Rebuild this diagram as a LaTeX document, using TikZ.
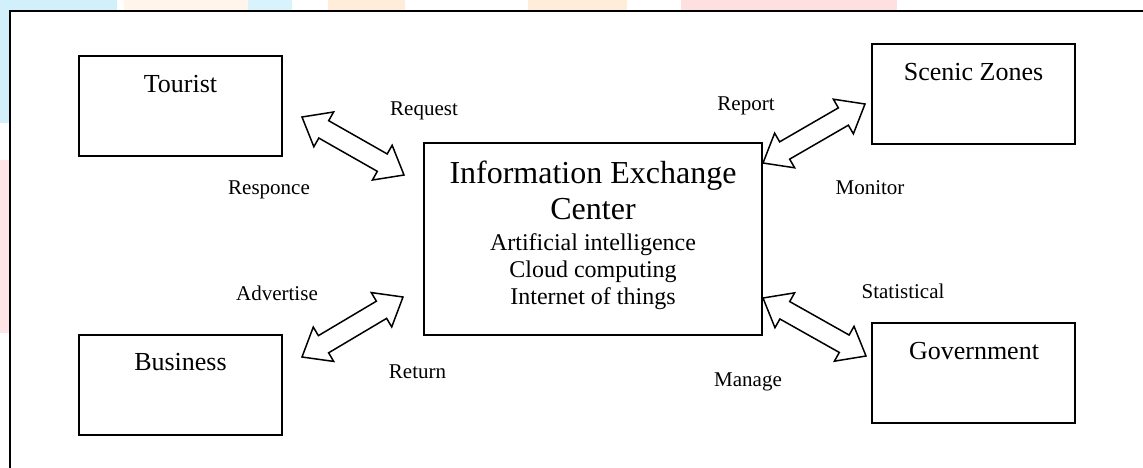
\documentclass[tikz,border=0pt]{standalone}
\usepackage{fontspec}
\setmainfont{Liberation Serif}
\usetikzlibrary{calc}
\tikzset{
  box/.style={draw=black, line width=1.5pt, fill=white, inner sep=0pt},
  boxtext/.style={anchor=base, inner sep=0pt, font=\fontsize{26}{30}\selectfont},
  titletext/.style={anchor=base, inner sep=0pt, font=\fontsize{32}{36}\selectfont},
  subtext/.style={anchor=base, inner sep=0pt, font=\fontsize{24}{28}\selectfont},
  lbl/.style={anchor=base, inner sep=0pt, font=\fontsize{21}{24}\selectfont},
  blockarrowstyle/.style={draw=black, fill=white, line width=1.5pt, line join=miter},
  frame/.style={draw=black, line width=1.5pt},
}
\newcommand{\blockarrow}[2]{%
  \draw[blockarrowstyle] (#1)
    -- ($(#1)!25pt!(#2)!20pt!90:(#2)$)
    -- ($(#1)!25pt!(#2)!10pt!90:(#2)$)
    -- ($(#2)!25pt!(#1)!10pt!-90:(#1)$)
    -- ($(#2)!25pt!(#1)!20pt!-90:(#1)$)
    -- (#2)
    -- ($(#2)!25pt!(#1)!20pt!90:(#1)$)
    -- ($(#2)!25pt!(#1)!10pt!90:(#1)$)
    -- ($(#1)!25pt!(#2)!10pt!-90:(#2)$)
    -- ($(#1)!25pt!(#2)!20pt!-90:(#2)$)
    -- cycle;}
\begin{document}
\begin{tikzpicture}[x=1pt, y=-1pt]
\useasboundingbox (0,0) rectangle (1143,467);
\clip (0,0) rectangle (1143,467);
\fill[white] (0,0) rectangle (1143,467);
% faint background watermark outside the frame
\fill[cyan!18] (0,0) rectangle (117,10);
\fill[orange!8] (124,0) rectangle (248,10);
\fill[cyan!15] (248,0) rectangle (292,10);
\fill[orange!15] (328,0) rectangle (405,10);
\fill[orange!15] (528,0) rectangle (627,10);
\fill[red!12] (681,0) rectangle (897,10);
\fill[cyan!18] (0,0) rectangle (9,123);
\fill[red!10] (0,160) rectangle (9,333);
% frame
\draw[frame] (10,480) -- (10,11) -- (1160,11);
% boxes
\node[box, minimum width=203pt, minimum height=100pt] (tourist) at (180.5,106) {};
\node[box, minimum width=203pt, minimum height=100pt] (business) at (180.5,385) {};
\node[box, minimum width=203pt, minimum height=100pt] (scenic) at (973.5,94) {};
\node[box, minimum width=203pt, minimum height=100pt] (gov) at (973.5,373) {};
\node[box, minimum width=338pt, minimum height=192pt] (center) at (593,239) {};
% box texts
\node[boxtext] (tTourist) at (180.5,92) {Tourist};
\node[boxtext] (tBusiness) at (180.5,370) {Business};
\node[boxtext] (tScenic) at (973.5,80) {Scenic Zones};
\node[boxtext] (tGov) at (974,359) {Government};
\node[titletext] (tInfo) at (593,183) {Information Exchange};
\node[titletext] (tCenter) at (593,219) {Center};
\node[subtext] (tAI) at (593,250) {Artificial intelligence};
\node[subtext] (tCloud) at (593,277) {Cloud computing};
\node[subtext] (tIoT) at (593,304) {Internet of things};
% arrow end points
\coordinate (ta) at (302,117);
\coordinate (tb) at (404,175);
\coordinate (ba) at (302,357);
\coordinate (bb) at (403,297);
\coordinate (sa) at (763,163);
\coordinate (sb) at (865,104);
\coordinate (ga) at (763,298);
\coordinate (gb) at (866,356);
\blockarrow{ta}{tb}
\blockarrow{ba}{bb}
\blockarrow{sa}{sb}
\blockarrow{ga}{gb}
% labels
\node[lbl] (lRequest) at (424,115) {Request};
\node[lbl] (lResponce) at (269,194) {Responce};
\node[lbl] (lReport) at (746,110) {Report};
\node[lbl] (lMonitor) at (870,194) {Monitor};
\node[lbl] (lAdvertise) at (277,300) {Advertise};
\node[lbl] (lReturn) at (417.5,378) {Return};
\node[lbl] (lStat) at (903,298) {Statistical};
\node[lbl] (lManage) at (748,386) {Manage};
\end{tikzpicture}
\end{document}
